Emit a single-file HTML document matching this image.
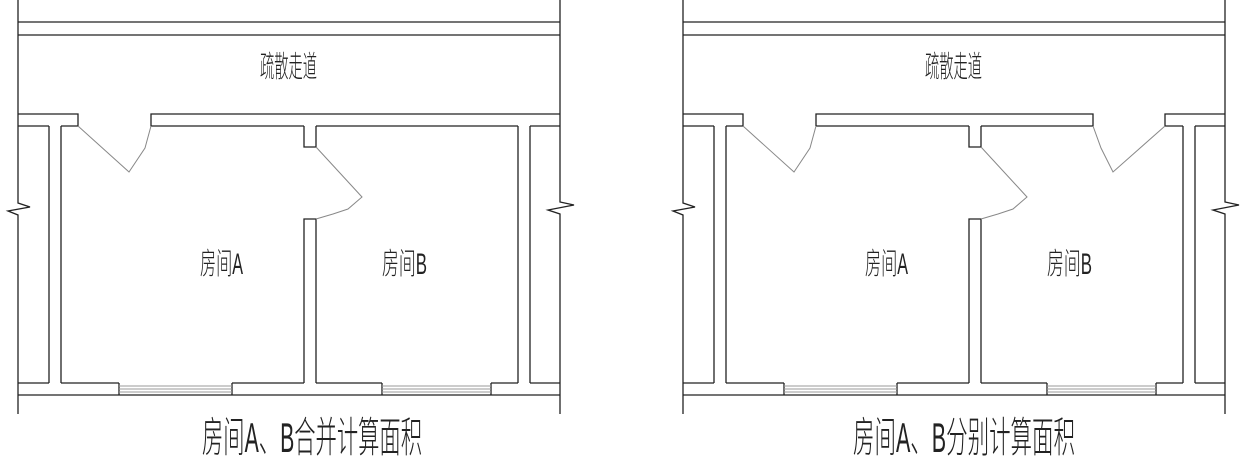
<!DOCTYPE html>
<html><head><meta charset="utf-8"><style>
html,body{margin:0;padding:0;background:#fff;}
svg{display:block;}
text{font-family:"Liberation Sans","Noto Sans CJK SC",sans-serif;fill:#222;font-weight:300;}
</style></head><body>
<svg width="1244" height="460" viewBox="0 0 1244 460" xmlns="http://www.w3.org/2000/svg">
<defs>
<g id="common" fill="none" stroke="#222" stroke-width="1.3">
  <polyline points="18,0 18,203 30,207 8,211 18,215 18,414"/>
  <polyline points="560,0 560,202 574,205 548,210 560,214 560,414"/>
  <line x1="18" y1="22" x2="560" y2="22"/>
  <line x1="18" y1="35" x2="560" y2="35"/>
  <line x1="49" y1="126" x2="49" y2="383"/>
  <line x1="61" y1="126" x2="61" y2="383"/>
  <line x1="518" y1="126" x2="518" y2="383"/>
  <line x1="530" y1="126" x2="530" y2="383"/>
  <polyline points="304,126 304,147 316,147 316,126"/>
  <polyline points="304,383 304,219 316,219 316,383"/>
  <line x1="18" y1="383" x2="49" y2="383"/>
  <line x1="61" y1="383" x2="119" y2="383"/>
  <line x1="232" y1="383" x2="304" y2="383"/>
  <line x1="316" y1="383" x2="382" y2="383"/>
  <line x1="491" y1="383" x2="518" y2="383"/>
  <line x1="530" y1="383" x2="560" y2="383"/>
  <line x1="18" y1="395" x2="560" y2="395"/>
  <line x1="119" y1="383" x2="119" y2="395"/>
  <line x1="232" y1="383" x2="232" y2="395"/>
  <line x1="382" y1="383" x2="382" y2="395"/>
  <line x1="491" y1="383" x2="491" y2="395"/>
  <polyline stroke="#888" stroke-width="1" points="316,147 362,197 348,209 333,214 316,219"/>
</g>
</defs>

<use href="#common"/>
<g fill="none" stroke="#222" stroke-width="1.3">
  <polyline points="18,126 49,126"/>
  <polyline points="61,126 78,126 78,114 18,114"/>
  <polyline points="560,114 151,114 151,126 304,126"/>
  <line x1="316" y1="126" x2="518" y2="126"/>
  <line x1="530" y1="126" x2="560" y2="126"/>
</g>
<g stroke="#999" stroke-width="1">
  <line x1="119" y1="386" x2="232" y2="386"/><line x1="119" y1="389" x2="232" y2="389"/><line x1="119" y1="392" x2="232" y2="392"/>
  <line x1="382" y1="386" x2="491" y2="386"/><line x1="382" y1="389" x2="491" y2="389"/><line x1="382" y1="392" x2="491" y2="392"/>
</g>
<polyline fill="none" stroke="#888" stroke-width="1" points="78,126 129,172 145,148 151,126"/>
<text x="260" y="77" font-size="30" textLength="57" lengthAdjust="spacingAndGlyphs">疏散走道</text>
<text x="200" y="274" font-size="30" textLength="43" lengthAdjust="spacingAndGlyphs">房间A</text>
<text x="382" y="274" font-size="30" textLength="45" lengthAdjust="spacingAndGlyphs">房间B</text>
<text x="202" y="452" font-size="42" textLength="220" lengthAdjust="spacingAndGlyphs">房间A、B合并计算面积</text>

<use href="#common" transform="translate(665,0)"/>
<g fill="none" stroke="#222" stroke-width="1.3">
  <polyline points="683,126 714,126"/>
  <polyline points="726,126 743,126 743,114 683,114"/>
  <polyline points="816,126 816,114 1093,114 1093,126 981,126"/>
  <line x1="969" y1="126" x2="816" y2="126"/>
  <polyline points="1225,114 1165,114 1165,126 1183,126"/>
  <line x1="1195" y1="126" x2="1225" y2="126"/>
</g>
<g stroke="#999" stroke-width="1">
  <line x1="784" y1="386" x2="897" y2="386"/><line x1="784" y1="389" x2="897" y2="389"/><line x1="784" y1="392" x2="897" y2="392"/>
  <line x1="1047" y1="386" x2="1156" y2="386"/><line x1="1047" y1="389" x2="1156" y2="389"/><line x1="1047" y1="392" x2="1156" y2="392"/>
</g>
<polyline fill="none" stroke="#888" stroke-width="1" points="743,126 794,172 810,148 816,126"/>
<polyline fill="none" stroke="#888" stroke-width="1" points="1165,126 1113,172 1101,148 1093,126"/>
<text x="925" y="77" font-size="30" textLength="57" lengthAdjust="spacingAndGlyphs">疏散走道</text>
<text x="865" y="274" font-size="30" textLength="43" lengthAdjust="spacingAndGlyphs">房间A</text>
<text x="1047" y="274" font-size="30" textLength="45" lengthAdjust="spacingAndGlyphs">房间B</text>
<text x="853" y="452" font-size="42" textLength="222" lengthAdjust="spacingAndGlyphs">房间A、B分别计算面积</text>
</svg>
</body></html>
